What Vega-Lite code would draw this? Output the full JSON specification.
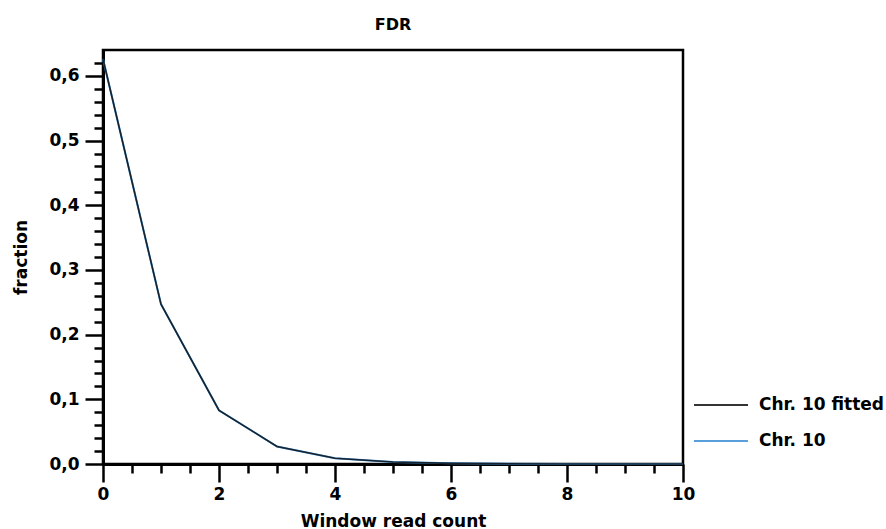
{
  "$schema": "https://vega.github.io/schema/vega-lite/v6.json",
  "autosize": "none",
  "width": 580,
  "height": 414,
  "padding": {"left": 103, "top": 50, "right": 203, "bottom": 65},
  "background": "white",
  "config": {
    "view": {"stroke": "black", "strokeWidth": 2.5},
    "font": "DejaVu Sans",
    "axis": {
      "domainColor": "black", "domainWidth": 3,
      "tickColor": "black", "tickWidth": 2.5,
      "labelFont": "DejaVu Sans", "labelFontWeight": "bold", "labelFontSize": 17, "labelColor": "black",
      "titleFont": "DejaVu Sans", "titleFontWeight": "bold", "titleFontSize": 17, "titleColor": "black",
      "grid": false
    }
  },
  "title": {"text": "FDR", "font": "DejaVu Sans", "fontWeight": "bold", "fontSize": 16, "color": "black", "baseline": "alphabetic", "offset": 4},
  "data": {
    "values": [
      {"x": 0, "y": 0.626, "series": "Chr. 10"},
      {"x": 1, "y": 0.247, "series": "Chr. 10"},
      {"x": 2, "y": 0.083, "series": "Chr. 10"},
      {"x": 3, "y": 0.027, "series": "Chr. 10"},
      {"x": 4, "y": 0.009, "series": "Chr. 10"},
      {"x": 5, "y": 0.003, "series": "Chr. 10"},
      {"x": 6, "y": 0.001, "series": "Chr. 10"},
      {"x": 7, "y": 0.0003, "series": "Chr. 10"},
      {"x": 8, "y": 0.0001, "series": "Chr. 10"},
      {"x": 9, "y": 0.0, "series": "Chr. 10"},
      {"x": 10, "y": 0.0, "series": "Chr. 10"},
      {"x": 0, "y": 0.626, "series": "Chr. 10 fitted"},
      {"x": 1, "y": 0.247, "series": "Chr. 10 fitted"},
      {"x": 2, "y": 0.083, "series": "Chr. 10 fitted"},
      {"x": 3, "y": 0.027, "series": "Chr. 10 fitted"},
      {"x": 4, "y": 0.009, "series": "Chr. 10 fitted"},
      {"x": 5, "y": 0.003, "series": "Chr. 10 fitted"},
      {"x": 6, "y": 0.001, "series": "Chr. 10 fitted"},
      {"x": 7, "y": 0.0003, "series": "Chr. 10 fitted"},
      {"x": 8, "y": 0.0001, "series": "Chr. 10 fitted"},
      {"x": 9, "y": 0.0, "series": "Chr. 10 fitted"},
      {"x": 10, "y": 0.0, "series": "Chr. 10 fitted"}
    ]
  },
  "encoding": {
    "x": {
      "field": "x", "type": "quantitative",
      "scale": {"domain": [0, 10], "nice": false, "zero": false},
      "axis": {
        "title": "Window read count", "titleY": 62, "titleBaseline": "alphabetic",
        "values": [0,0.5,1,1.5,2,2.5,3,3.5,4,4.5,5,5.5,6,6.5,7,7.5,8,8.5,9,9.5,10],
        "tickSize": {"condition": {"test": "abs(datum.value/2 - round(datum.value/2)) < 0.001", "value": 18}, "value": 9},
        "labelExpr": "abs(datum.value/2 - round(datum.value/2)) < 0.001 ? format(datum.value, 'd') : ''",
        "labelPadding": 4, "labelFlush": false, "labelOverlap": false
      }
    },
    "y": {
      "field": "y", "type": "quantitative",
      "scale": {"domain": [0, 0.64], "nice": false},
      "axis": {
        "title": "fraction", "titleX": -77, "titleBaseline": "alphabetic",
        "values": [0,0.02,0.04,0.06,0.08,0.1,0.12,0.14,0.16,0.18,0.2,0.22,0.24,0.26,0.28,0.3,0.32,0.34,0.36,0.38,0.4,0.42,0.44,0.46,0.48,0.5,0.52,0.54,0.56,0.58,0.6,0.62],
        "tickSize": {"condition": {"test": "abs(datum.value*10 - round(datum.value*10)) < 0.001", "value": 18}, "value": 9},
        "labelExpr": "abs(datum.value*10 - round(datum.value*10)) < 0.001 ? replace(format(datum.value, '.1f'), '.', ',') : ''",
        "labelPadding": 6, "labelFlush": false, "labelOverlap": false
      }
    },
    "color": {
      "field": "series", "type": "nominal",
      "scale": {"domain": ["Chr. 10 fitted", "Chr. 10"], "range": ["#111111", "#3d8fd6"]},
      "legend": {
        "title": null, "orient": "none", "legendX": 590, "legendY": 327,
        "symbolType": "stroke", "symbolSize": 2916, "symbolStrokeWidth": 2,
        "labelFont": "DejaVu Sans", "labelFontWeight": "bold", "labelFontSize": 17, "labelColor": "black",
        "labelOffset": 10, "rowPadding": -18, "padding": 0
      }
    }
  },
  "layer": [
    {"transform": [{"filter": "datum.series === 'Chr. 10'"}], "mark": {"type": "line", "strokeWidth": 2}},
    {"transform": [{"filter": "datum.series === 'Chr. 10 fitted'"}], "mark": {"type": "line", "strokeWidth": 1.6, "opacity": 0.85}}
  ]
}
